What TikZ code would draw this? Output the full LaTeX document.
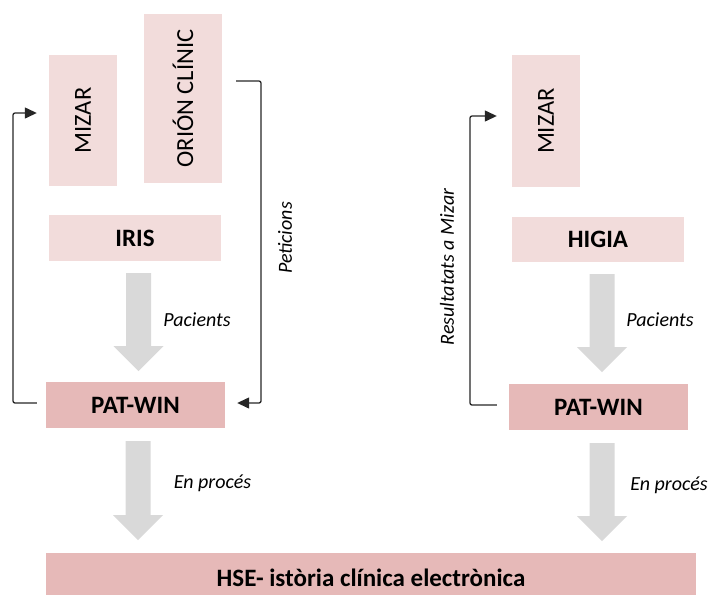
\documentclass[tikz,border=0pt]{standalone}
\usepackage{fontspec}
\setmainfont{Carlito}
\usetikzlibrary{arrows.meta,calc}
\definecolor{lightpink}{HTML}{F2DCDB}
\definecolor{darkpink}{HTML}{E6B9B8}
\definecolor{arrowgray}{HTML}{D9D9D9}
\newcommand{\blockarrow}[3]{%
  \fill[arrowgray] ({#1-12.5},#2) -- ({#1+12.5},#2) -- ({#1+12.5},{#3-25}) -- ({#1+25},{#3-25})
    -- (#1,#3) -- ({#1-25},{#3-25}) -- ({#1-12.5},{#3-25}) -- cycle;}
\tikzset{
  box/.style={fill=lightpink, draw=none, inner sep=0pt, text=black},
  darkbox/.style={fill=darkpink, draw=none, inner sep=0pt, text=black},
  vlabel/.style={rotate=90, font=\fontsize{24.5}{28}\selectfont},
  hlabel/.style={font=\fontsize{25}{29}\selectfont\bfseries},
  conn/.style={line width=1.3pt, draw=black!85, rounded corners=2pt, -{Triangle[length=12pt,width=11pt]}},
  lbl/.style={font=\fontsize{20}{24}\selectfont\itshape, inner sep=0pt}
}
\begin{document}
\begin{tikzpicture}[x=1pt,y=-1pt]
\useasboundingbox (0,0) rectangle (716,595);
% boxes left
\node[box, minimum width=68pt, minimum height=131pt] (mizL) at (83,120.5) {};
\node[vlabel] (mizLt) at (mizL) {MIZAR};
\node[box, minimum width=78pt, minimum height=169pt] (orion) at (183,98.5) {};
\node[vlabel] (oriont) at (orion) {ORIÓN CLÍNIC};
\node[box, hlabel, minimum width=172pt, minimum height=46pt] (iris) at (135,238) {IRIS};
\node[darkbox, hlabel, minimum width=179pt, minimum height=46pt] (patL) at (135.5,405) {PAT-WIN};
% boxes right
\node[box, minimum width=68pt, minimum height=132pt] (mizR) at (546,121) {};
\node[vlabel] (mizRt) at (mizR) {MIZAR};
\node[box, hlabel, minimum width=172pt, minimum height=45pt] (higia) at (598,239.5) {HIGIA};
\node[darkbox, hlabel, minimum width=179pt, minimum height=46pt] (patR) at (598.5,407) {PAT-WIN};
% bottom
\node[darkbox, hlabel, minimum width=650pt, minimum height=50pt] (hse) at (371,578) {HSE- istòria clínica electrònica};
% block arrows
\blockarrow{138.5}{273}{371}
\blockarrow{138}{441}{540}
\blockarrow{602}{274}{372}
\blockarrow{602}{443}{541}
\node[lbl] (pacL) at (197,320) {Pacients};
\node[lbl] (pacR) at (660,320) {Pacients};
\node[lbl] (procL) at (212.5,483) {En procés};
\node[lbl] (procR) at (669,485) {En procés};
% connectors
\draw[conn] ($(patL.west)+(-9,-2)$) -| (13,250) |- ($(mizL.west)+(-12,-7.5)$);
\draw[conn] ($(orion.east)+(14,-17.5)$) -| (261,250) |- ($(patL.east)+(12,-2)$);
\draw[conn] ($(patR.west)+(-12,-2)$) -| (470,250) |- ($(mizR.west)+(-15,-5)$);
\node[lbl, rotate=90] (petic) at (285,238) {Peticions};
\node[lbl, rotate=90] (resul) at (447,267) {Resultatats a Mizar};
\end{tikzpicture}
\end{document}
